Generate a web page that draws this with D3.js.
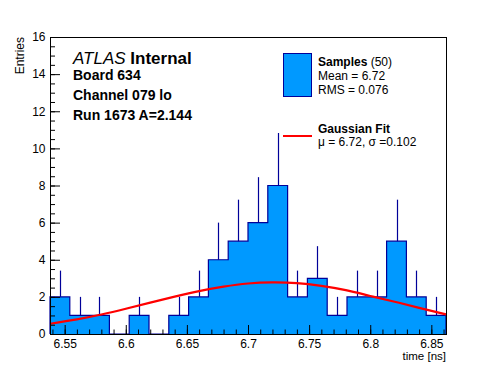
<!DOCTYPE html>
<html>
<head>
<meta charset="utf-8">
<script src="https://cdn.jsdelivr.net/npm/d3@7"></script>
<style>
  body { margin: 0; background: #fff; }
  svg { display: block; font-family: "Liberation Sans", Arial, Helvetica, sans-serif; }
</style>
</head>
<body>
<div class="hist"></div>
<script>
// DATA ------------------------------
const binRange = [6.538, 6.862];
const binCounts = [2, 1, 1, 0, 1, 0, 1, 2, 4, 5, 6, 8, 2, 3, 1, 2, 2, 5, 2, 1];

// gaussian fit curve
const fitX = [6.538, 6.56, 6.58, 6.60, 6.62, 6.64, 6.66, 6.68, 6.70, 6.72, 6.74, 6.76, 6.78, 6.80, 6.82, 6.84, 6.862];
const fitY = [0.55, 0.79, 1.05, 1.36, 1.69, 2.01, 2.31, 2.55, 2.72, 2.78, 2.74, 2.59, 2.36, 2.05, 1.74, 1.41, 1.06];

const xTicks = [6.55, 6.6, 6.65, 6.7, 6.75, 6.8, 6.85];
const xTickLabels = ["6.55", "6.6", "6.65", "6.7", "6.75", "6.8", "6.85"];
const yTicks = [0, 2, 4, 6, 8, 10, 12, 14, 16];

const infoLines = ["Board 634", "Channel 079 lo", "Run 1673 A=2.144"];

// margin
const margin = ({top: 37, right: 50, bottom: 38, left: 50});
const width = 496 - margin.left - margin.right,
      height = 372 - margin.top - margin.bottom;

const svg = d3.select(".hist")
    .append("svg")
    .attr("width", 496)
    .attr("height", 372);

const g = svg.append("g")
    .attr("transform", "translate(" + margin.left + "," + margin.top + ")");

// scales
const xScale = d3.scaleLinear()
    .domain(binRange)
    .range([0, width]);

const yScale = d3.scaleLinear()
    .domain([0, 16])
    .range([height, 0]);

// bins
const nBins = binCounts.length;
const binW = (binRange[1] - binRange[0]) / nBins;
const bins = binCounts.map((c, i) => ({
    x0: binRange[0] + i * binW,
    x1: binRange[0] + (i + 1) * binW,
    n: c
}));

const fillColor = "#0099ff";
const lineColor = "#000099";

// step points for fill + outline
let stepPts = [[bins[0].x0, 0]];
bins.forEach(d => {
    stepPts.push([d.x0, d.n]);
    stepPts.push([d.x1, d.n]);
});
stepPts.push([bins[nBins - 1].x1, 0]);

// filled histogram (one area so no seams between bins)
g.append("path")
    .datum(stepPts)
    .attr("class", "bar")
    .attr("fill", fillColor)
    .attr("d", d3.area().x(d => xScale(d[0])).y0(height).y1(d => yScale(d[1])));

// step outline
g.append("path")
    .datum(stepPts)
    .attr("fill", "none")
    .attr("stroke", lineColor)
    .attr("stroke-width", 1.2)
    .attr("d", d3.line().x(d => xScale(d[0])).y(d => yScale(d[1])));

// error bars (sqrt N), only the part above the bar is visible
g.selectAll(".err")
    .data(bins.filter(d => d.n > 0))
    .enter()
    .append("line")
    .attr("class", "err")
    .attr("stroke", lineColor)
    .attr("stroke-width", 1.2)
    .attr("x1", d => Math.round(xScale((d.x0 + d.x1) / 2)) + 0.5)
    .attr("x2", d => Math.round(xScale((d.x0 + d.x1) / 2)) + 0.5)
    .attr("y1", d => yScale(d.n))
    .attr("y2", d => yScale(d.n + Math.sqrt(d.n)));

// fit curve
const fitPts = fitX.map((x, i) => [x, fitY[i]]);
g.append("path")
    .datum(fitPts)
    .attr("fill", "none")
    .attr("stroke", "#ff0000")
    .attr("stroke-width", 2.2)
    .attr("d", d3.line().x(d => xScale(d[0])).y(d => yScale(d[1])).curve(d3.curveNatural));

// axes
const yMinor = d3.range(0, 16.01, 0.5);
const xMinor = d3.range(6.54, 6.861, 0.01);

g.append("g")
    .attr("class", "y-minor")
    .call(d3.axisLeft(yScale).tickValues(yMinor).tickSize(-5).tickFormat(""));

g.append("g")
    .attr("class", "y-axis")
    .call(d3.axisLeft(yScale).tickValues(yTicks).tickSize(-10).tickPadding(4.5).tickFormat(d3.format("d")));

g.append("g")
    .attr("class", "x-minor")
    .attr("transform", "translate(0," + height + ")")
    .call(d3.axisBottom(xScale).tickValues(xMinor).tickSize(-4.5).tickFormat(""));

g.append("g")
    .attr("class", "x-axis")
    .attr("transform", "translate(0," + height + ")")
    .call(d3.axisBottom(xScale).tickValues(xTicks).tickSize(-9).tickPadding(5.5)
        .tickFormat((d, i) => xTickLabels[i]));

g.selectAll(".domain").remove();
g.selectAll(".tick line").attr("stroke", "#000");
g.selectAll(".tick text").attr("font-size", 12).attr("fill", "#000")
    .attr("font-family", "'Liberation Sans', Arial, Helvetica, sans-serif");

// frame
g.append("rect")
    .attr("x", 0.5)
    .attr("y", 0.5)
    .attr("width", width)
    .attr("height", height)
    .attr("fill", "none")
    .attr("stroke", "#000")
    .attr("stroke-width", 1);

// axis titles
svg.append("text")
    .attr("transform", "translate(24," + margin.top + ") rotate(-90)")
    .attr("text-anchor", "end")
    .attr("font-size", 12)
    .text("Entries");

svg.append("text")
    .attr("x", margin.left + width)
    .attr("y", 360)
    .attr("text-anchor", "end")
    .attr("font-size", 11.5)
    .text("time [ns]");

// labels
const atlas = svg.append("text")
    .attr("x", 73)
    .attr("y", 64)
    .attr("font-size", 17);
atlas.append("tspan").attr("font-style", "italic").text("ATLAS");
atlas.append("tspan").attr("font-weight", "bold").text(" Internal");

svg.selectAll(".info")
    .data(infoLines)
    .enter()
    .append("text")
    .attr("class", "info")
    .attr("x", 73)
    .attr("y", (d, i) => 80 + i * 20)
    .attr("font-size", 14)
    .attr("font-weight", "bold")
    .text(d => d);

// legend
const leg = svg.append("g");
leg.append("rect")
    .attr("x", 283.5).attr("y", 53.5)
    .attr("width", 28).attr("height", 43)
    .attr("fill", fillColor)
    .attr("stroke", lineColor);

const t1 = leg.append("text").attr("x", 318).attr("y", 66).attr("font-size", 12);
t1.append("tspan").attr("font-weight", "bold").text("Samples");
t1.append("tspan").text(" (50)");
leg.append("text").attr("x", 318).attr("y", 80).attr("font-size", 12).text("Mean = 6.72");
leg.append("text").attr("x", 318).attr("y", 94).attr("font-size", 12).text("RMS = 0.076");

leg.append("line")
    .attr("x1", 283).attr("x2", 312)
    .attr("y1", 136).attr("y2", 136)
    .attr("stroke", "#ff0000").attr("stroke-width", 2);
leg.append("text").attr("x", 318).attr("y", 133).attr("font-size", 12)
    .attr("font-weight", "bold").text("Gaussian Fit");
leg.append("text").attr("x", 318).attr("y", 146).attr("font-size", 12)
    .text("\u03bc = 6.72, \u03c3 =0.102");
</script>
</body>
</html>
